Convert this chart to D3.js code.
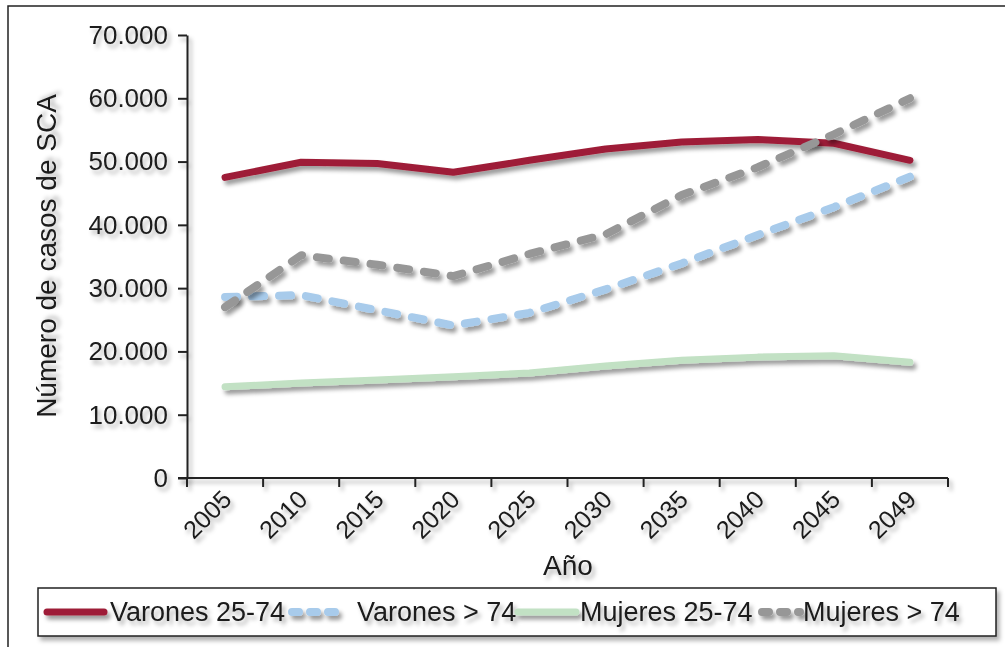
<!DOCTYPE html>
<html>
<head>
<meta charset="utf-8">
<script src="https://cdn.jsdelivr.net/npm/d3@7"></script>
<style>
  body { margin: 0; background: #fff; }
  svg text { font-family: "Liberation Sans", Arial, sans-serif; fill: #1a1a1a; }
</style>
</head>
<body>
<svg id="chart" width="1005" height="647"></svg>
<script>
// categories and series
var years = ["2005", "2010", "2015", "2020", "2025", "2030", "2035", "2040", "2045", "2049"];
var varones2574 = [47500, 49900, 49700, 48300, 50200, 52000, 53100, 53500, 52900, 50200];
var varonesMas74 = [28600, 28900, 26500, 24100, 26100, 29800, 33900, 38400, 42800, 47600];
var mujeres2574 = [14400, 15000, 15500, 16000, 16600, 17700, 18600, 19100, 19300, 18300];
var mujeresMas74 = [27000, 35200, 33700, 31900, 35400, 38500, 44700, 49100, 54300, 60000];
var yTicks = [0, 10000, 20000, 30000, 40000, 50000, 60000, 70000];

var series = [
  { name: "Varones 25-74", values: varones2574, color: "#9e1f37", width: 7, dash: null },
  { name: "Varones > 74", values: varonesMas74, color: "#a8cbeb", width: 8, dash: "12,15" },
  { name: "Mujeres 25-74", values: mujeres2574, color: "#c2e1c4", width: 7, dash: null },
  { name: "Mujeres > 74", values: mujeresMas74, color: "#979797", width: 8, dash: "12,15" }
];

var svg = d3.select("#chart");

// shadows (user space, big region so flat lines and rotated text keep theirs)
var defs = svg.append("defs");
function shadow(id, blur, op) {
  defs.append("filter").attr("id", id)
    .attr("filterUnits", "userSpaceOnUse")
    .attr("x", -1200).attr("y", -1200).attr("width", 3400).attr("height", 3400)
    .append("feDropShadow")
    .attr("dx", 3).attr("dy", 4).attr("stdDeviation", blur)
    .attr("flood-color", "#000").attr("flood-opacity", op);
}
shadow("shadow", 2.2, 0.4);
shadow("tshadow", 2, 0.3);

// outer frame
svg.append("rect")
  .attr("x", 8).attr("y", 6).attr("width", 1010).attr("height", 660)
  .attr("fill", "#fff").attr("stroke", "#222").attr("stroke-width", 1.5);

var x = d3.scaleBand().domain(years).range([187, 948]);
var y = d3.scaleLinear().domain([0, 70000]).range([478, 35]);

// y axis
var fmt = function (d) { return d3.format(",")(d).replace(/,/g, "."); };
var yAxis = svg.append("g")
  .attr("transform", "translate(187,0)")
  .attr("filter", "url(#tshadow)")
  .call(d3.axisLeft(y).tickValues(yTicks).tickFormat(fmt).tickSize(9).tickPadding(10).tickSizeOuter(0));
yAxis.select(".domain").attr("stroke", "#222").attr("stroke-width", 2);
yAxis.selectAll(".tick line").attr("stroke", "#222").attr("stroke-width", 2);
yAxis.selectAll(".tick text")
  .style("font-size", "26px").attr("fill", "#1a1a1a");

// x axis: ticks at band edges, labels at band centres
var edges = years.map(function (d) { return x(d); }).concat([x.range()[1]]);
var xAxis = svg.append("g").attr("filter", "url(#tshadow)");
xAxis.append("line")
  .attr("x1", 178).attr("x2", x.range()[1])
  .attr("y1", y(0)).attr("y2", y(0))
  .attr("stroke", "#222").attr("stroke-width", 2);
xAxis.selectAll("line.tk").data(edges).enter().append("line")
  .attr("class", "tk")
  .attr("x1", function (d) { return d; }).attr("x2", function (d) { return d; })
  .attr("y1", y(0)).attr("y2", y(0) + 9)
  .attr("stroke", "#222").attr("stroke-width", 2);
xAxis.selectAll("text").data(years).enter().append("text")
  .attr("transform", function (d) {
    return "translate(" + (x(d) + x.bandwidth() / 2 + 8) + "," + (y(0) + 23) + ") rotate(-45)";
  })
  .attr("text-anchor", "end")
  .style("font-size", "25px")
  .text(function (d) { return d; });

// axis titles
svg.append("text")
  .attr("transform", "translate(56,256) rotate(-90)")
  .attr("text-anchor", "middle")
  .attr("filter", "url(#tshadow)")
  .style("font-size", "28px")
  .text("Número de casos de SCA");
svg.append("text")
  .attr("x", 568).attr("y", 575)
  .attr("text-anchor", "middle")
  .attr("filter", "url(#tshadow)")
  .style("font-size", "28px")
  .text("Año");

// lines
var line = d3.line()
  .x(function (d, i) { return x(years[i]) + x.bandwidth() / 2; })
  .y(function (d) { return y(d); });

svg.append("g").selectAll("path").data(series).enter().append("path")
  .attr("d", function (s) { return line(s.values); })
  .attr("fill", "none")
  .attr("stroke", function (s) { return s.color; })
  .attr("stroke-width", function (s) { return s.width; })
  .attr("stroke-dasharray", function (s) { return s.dash; })
  .attr("stroke-linecap", "round")
  .attr("stroke-linejoin", "round")
  .attr("filter", "url(#shadow)");

// legend
var legend = svg.append("g");
legend.append("rect")
  .attr("x", 38).attr("y", 588).attr("width", 958).attr("height", 48)
  .attr("fill", "#fff").attr("stroke", "#222").attr("stroke-width", 1.5)
  .attr("filter", "url(#tshadow)");
var legendX = [[47, 104, 110], [292, 346, 357], [518, 576, 580], [762, 800, 803]];
var items = legend.selectAll("g.item").data(series).enter().append("g").attr("class", "item");
items.append("line")
  .attr("x1", function (s, i) { return legendX[i][0]; })
  .attr("x2", function (s, i) { return legendX[i][1]; })
  .attr("y1", 612).attr("y2", 612)
  .attr("stroke", function (s) { return s.color; })
  .attr("stroke-width", function (s) { return s.width; })
  .attr("stroke-dasharray", function (s) { return s.dash ? "7,11" : null; })
  .attr("stroke-linecap", "round")
  .attr("filter", "url(#shadow)");
items.append("text")
  .attr("x", function (s, i) { return legendX[i][2]; })
  .attr("y", 621)
  .attr("filter", "url(#tshadow)")
  .style("font-size", "27px")
  .text(function (s) { return s.name; });
</script>
</body>
</html>
